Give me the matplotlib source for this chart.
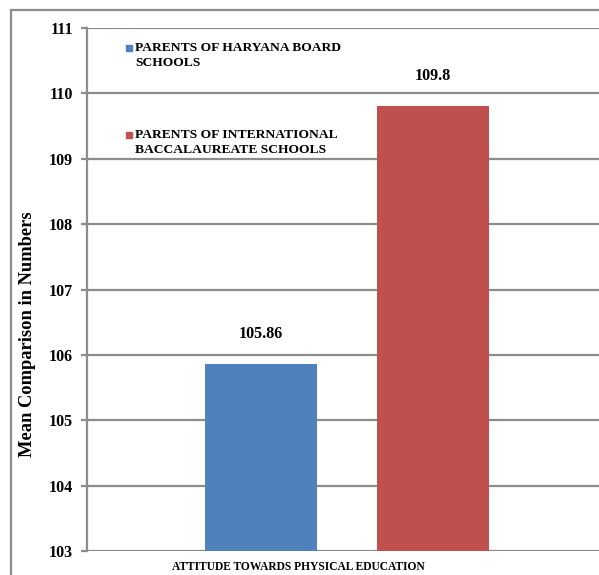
import matplotlib
matplotlib.use("Agg")
import matplotlib.pyplot as plt
from matplotlib.patches import Rectangle

series = ["PARENTS OF HARYANA BOARD\nSCHOOLS", "PARENTS OF INTERNATIONAL\nBACCALAUREATE SCHOOLS"]
values = [105.86, 109.8]
value_labels = ["105.86", "109.8"]
colors = ["#4F81BD", "#C0504D"]
category = "ATTITUDE TOWARDS PHYSICAL EDUCATION"
yticks = [103, 104, 105, 106, 107, 108, 109, 110, 111]

W, H = 599, 575
plt.rcParams['font.family'] = ['Liberation Serif', 'DejaVu Serif']
plt.rcParams['font.weight'] = 'bold'
fig = plt.figure(figsize=(W / 100, H / 100), dpi=100)

def fx(px):
    return px / W

def fy(py):
    return 1 - py / H

# outer border
fig.patches.append(Rectangle((fx(11), fy(600)), fx(640) - fx(11), fy(10) - fy(600),
                             transform=fig.transFigure, fill=False, edgecolor="#8C8C8C", lw=1.6))

ax = fig.add_axes([fx(87), fy(551), fx(599) - fx(87), fy(28) - fy(551)])
grid_c = "#8C8C8C"
positions = [-0.5, 0.5]
ax.bar(positions, [v - 103 for v in values], bottom=103, width=0.65, color=colors, zorder=3)
for p, v, lab in zip(positions, values, value_labels):
    ax.text(p, v + 0.46, lab, ha="center", va="center", fontsize=11.5, fontweight="bold")

ax.set_xlim(-1.512, 1.465)
ax.set_ylim(103, 111)
ax.set_yticks(yticks)
ax.set_yticklabels([str(t) for t in yticks], fontsize=11.5, fontweight="bold")
ax.yaxis.grid(True, color=grid_c, lw=1.6, zorder=0)
ax.set_xticks([])
for s in ["top", "right", "bottom"]:
    ax.spines[s].set_visible(False)
ax.spines["left"].set_color(grid_c)
ax.spines["left"].set_linewidth(1.6)
ax.tick_params(axis="y", length=4, width=1.6, color=grid_c, pad=6)

fig.text(fx(298), fy(567), category, ha="center", va="center", fontsize=8.3, fontweight="bold")
fig.text(fx(28), fy(334), "Mean Comparison in Numbers", rotation=90, ha="center", va="center",
         fontsize=13.3, fontweight="bold")

# legend
leg_y = [48, 135]
for lab, c, y in zip(series, colors, leg_y):
    fig.patches.append(Rectangle((fx(126), fy(y + 3)), fx(6), fy(0) - fy(6),
                                 transform=fig.transFigure, color=c))
    fig.text(fx(135), fy(y - 6), lab, ha="left", va="top", fontsize=9.7, fontweight="bold",
             linespacing=1.3)

fig.savefig("out.png", dpi=100)
